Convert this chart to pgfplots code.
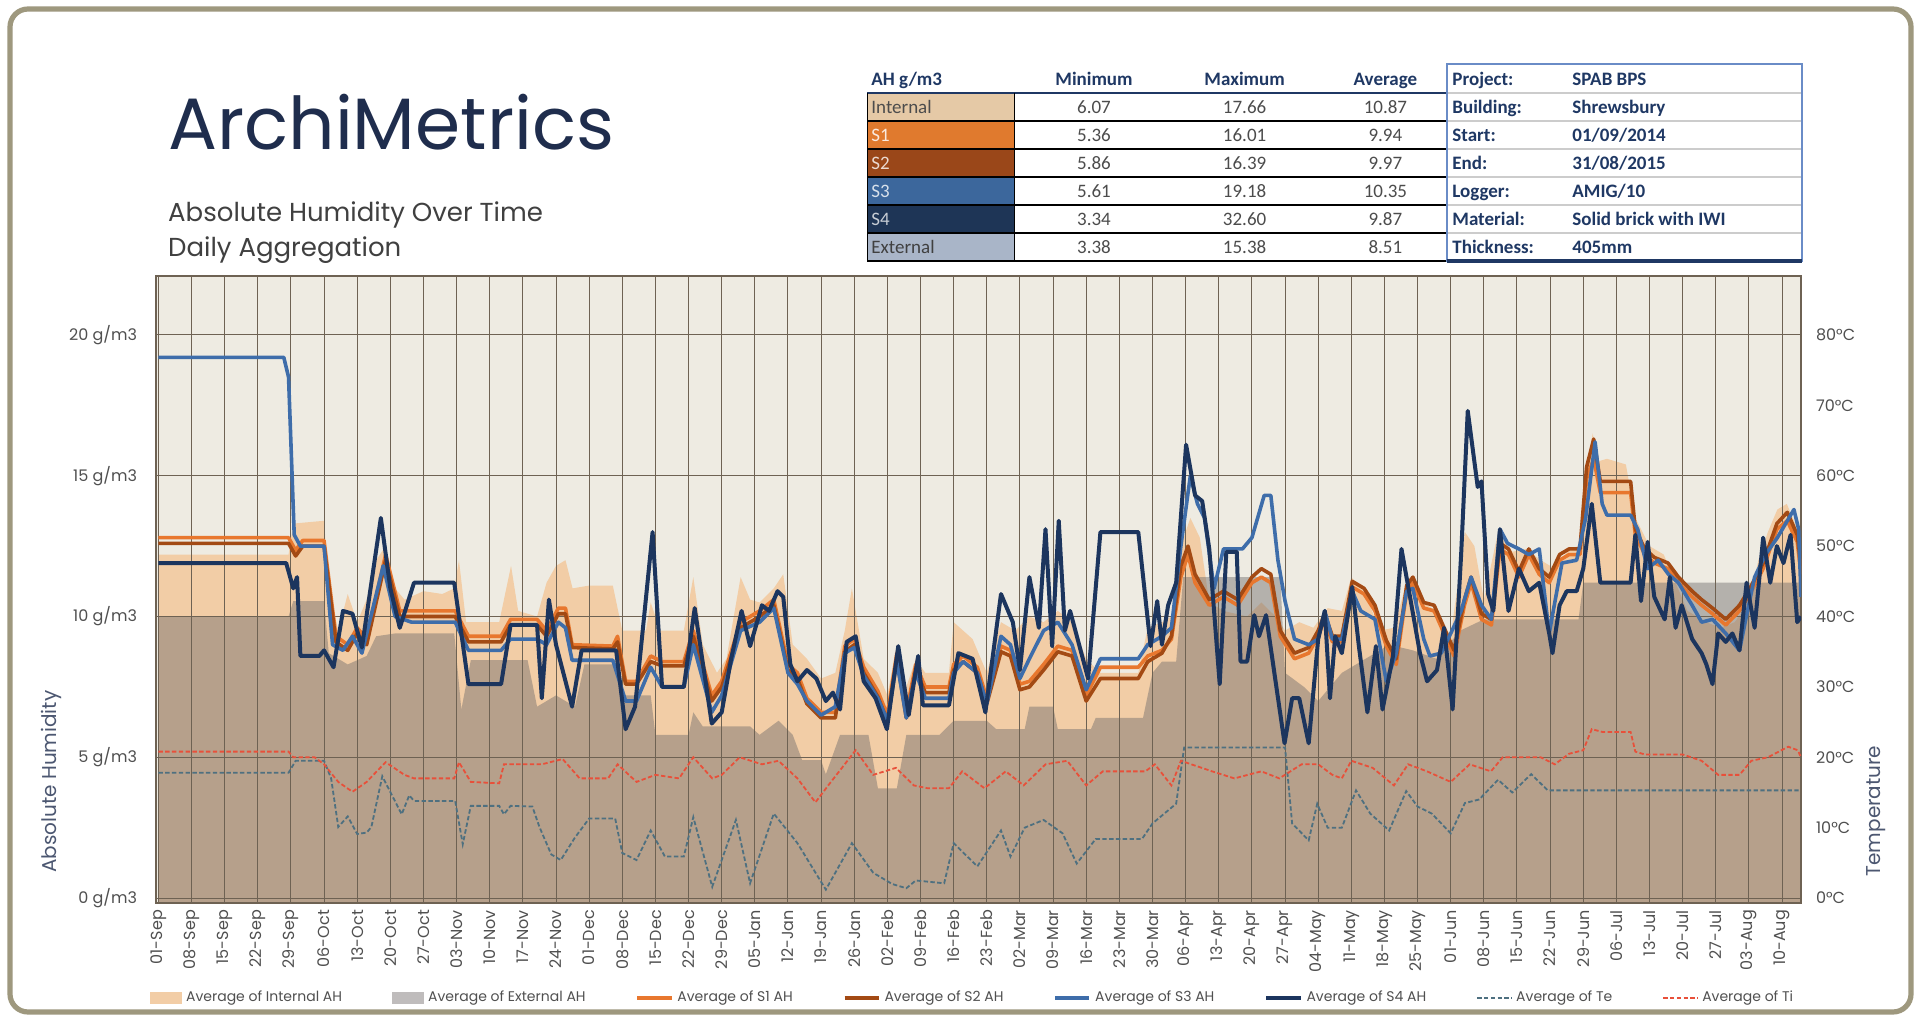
\documentclass[border=0pt]{standalone}
\usepackage{fontspec}
\setmainfont{Poppins}
\newfontfamily\cond{Carlito}
\usepackage{graphicx}
\usepackage{pgfplots}
\usepackage{pgfplotstable}
\pgfplotsset{compat=1.18}

\definecolor{bgcream}{HTML}{EEEBE2}
\definecolor{cInt}{HTML}{F2CDA6}
\definecolor{cExt}{HTML}{6F6B6B}
\definecolor{cExtL}{HTML}{BFBCBC}
\definecolor{cS1}{HTML}{E8772E}
\definecolor{cS2}{HTML}{A34A14}
\definecolor{cS3}{HTML}{3E6DAA}
\definecolor{cS4}{HTML}{1C355E}
\definecolor{cTi}{HTML}{E8503A}
\definecolor{cTe}{HTML}{4E7080}
\definecolor{gridc}{HTML}{6E6253}
\definecolor{ticktext}{HTML}{505050}
\definecolor{navy}{HTML}{1F2D4D}
\definecolor{ptnavy}{HTML}{1F3864}
\definecolor{frame}{HTML}{9E987E}
\definecolor{tblue}{HTML}{6A8CC7}
\definecolor{cTabInt}{HTML}{E5C9A6}
\definecolor{cTabS1}{HTML}{E07A2E}
\definecolor{cTabS2}{HTML}{9A4719}
\definecolor{cTabS3}{HTML}{3C679C}
\definecolor{cTabS4}{HTML}{1E3556}
\definecolor{cTabExt}{HTML}{A9B5C8}

% ---------------- data (day index from 01-Sep-2014) ----------------
\pgfplotstableread{
d v
0 -0.2
0 12.2
27.5 12.2
28.5 13.3
35 13.4
36 11.0
38 9.5
40 10.8
42 9.8
44 10.6
46 12.0
48 12.5
50 11.0
52 10.6
56 10.9
60 10.8
62.5 11.0
63.5 12.0
65 9.8
72 9.8
74.5 11.8
76 10.2
80 10.0
82 11.2
84 11.8
86 12.0
87.5 11.0
91 11.1
96 11.1
98 9.5
103 9.5
104 10.5
106 9.5
111 9.5
113 11.4
115 9.0
118 8.0
120 8.5
123 11.4
125 10.6
127 10.5
130 11.0
132 11.5
134 9.0
137 8.5
140 7.8
143 8.0
145 9.5
146.5 11.0
149 8.5
152 8.0
154 7.2
156 9.0
158 7.5
160 8.5
162 8.0
167 8.0
168 9.8
172 9.2
175 8.0
178 9.8
181 9.5
184 10.0
187 9.8
190 10.2
193 9.8
196 8.5
199 8.0
207 8.0
209 9.6
212 9.8
214 10.0
216 12.5
218 13.5
220 12.8
222 10.5
225 10.2
230 10.0
233 10.5
236 10.0
238 9.5
241 9.8
244 9.6
247 10.3
250 10.2
252 11.4
255 10.8
258 9.5
261 9.6
264 11.4
267 10.5
270 10.2
273 9.3
276 13.0
278 12.5
280 10.6
283 13.0
286 12.3
289 12.4
292 12.0
295 11.7
298 12.4
300 12.5
301.5 15.0
303 16.5
304 15.5
306 15.6
310 15.4
312 13.5
315 12.5
318 12.2
321 11.0
323 10.2
327 9.8
330 9.6
333 9.8
336 10.5
338 12.0
340 13.0
342 13.8
344 14.0
346 13.2
347 12.0
347 -0.2
}\tInt

\pgfplotstableread{
d v
0 -0.2
0 10.0
27.5 10.0
28.5 10.55
35 10.55
36 8.7
40 8.3
44 8.6
46 9.3
50 9.4
62.5 9.4
64 6.7
66 8.45
78 8.45
80 6.8
84 7.2
88 6.8
90 8.3
97 8.3
98 7.2
104 7.2
105 5.8
112 5.8
113 6.6
115 6.1
125 6.1
127 5.8
131 6.3
134 5.8
136 4.9
140 4.9
141 4.4
144 5.8
150 5.8
152 3.9
156 3.9
158 5.8
165 5.8
168 6.3
175 6.3
177 6.0
183 6.0
184 6.8
189 6.8
190 6.0
197 6.0
198 6.4
208 6.4
210 8.0
212 8.4
215 8.4
216.5 11.4
237 11.4
238 8.0
242 7.5
245 7.0
250 8.0
255 8.5
260 9.0
265 8.8
270 8.5
275 9.5
280 9.9
300 9.9
301 11.2
347 11.2
347 -0.2
}\tExt

\pgfplotstableread{
d v
0 12.8
27.5 12.8
29 12.35
30.5 12.7
35 12.7
37.5 9.3
40 9.0
42 9.6
44 9.2
48 12.2
51 10.2
53.5 10.2
62.7 10.2
65.5 9.3
72.4 9.3
74.4 9.9
80 9.9
82 9.5
84.5 10.3
86 10.3
87.4 9.0
96 8.95
97 9.3
98.7 7.7
101 7.7
104 8.6
106.4 8.4
111 8.4
113 9.5
116.9 7.2
119 7.7
123 9.8
127 10.2
130 10.6
133 8.3
135 8.0
137 7.1
140 6.6
143 6.6
145 8.95
147 9.2
149 8.2
152 7.35
154 6.5
156 8.7
158 6.6
160 8.3
162 7.5
167 7.5
168 8.3
170 8.6
173 8.2
175 7.1
178 8.95
180 8.8
182 7.6
184 7.7
187 8.3
190 8.95
193 8.8
196 7.2
199 8.2
207 8.2
209 8.6
212 8.8
214 9.2
216 11.4
217.5 12.2
219 11.2
222 10.4
225 10.7
228 10.4
231 11.2
233 11.4
235 11.2
237 9.3
240 8.5
243 8.7
245 9.3
246.4 9.9
248 9.1
250 9.1
252.2 11.05
254.7 10.8
257 10.2
259.4 8.95
261.5 8.3
263.7 10.9
265 11.2
267.3 10.3
269.5 10.2
271.6 9.4
273.7 8.6
275.9 10.4
277.3 11.2
279.5 9.9
281.6 9.7
283.4 12.4
285.2 12.2
287.4 11.4
289.5 12.2
291.7 11.5
293.8 11.2
296 12.0
298 12.2
300.3 12.2
301.7 14.9
303.2 15.6
304.6 14.4
311 14.4
312 12.9
314 12.2
316 11.9
318.9 11.7
321.1 11.2
324 10.7
326 10.4
328.3 10.1
331.1 9.7
334 10.2
336.2 10.8
339 11.7
341.9 13.1
344.1 13.4
346.2 12.65
347 11.5
}\tSone

\pgfplotstableread{
d v
0 12.6
27.5 12.6
29 12.15
30.5 12.5
35 12.5
37.5 9.1
40 8.8
42 9.4
44 9.0
48 12.0
51 10.0
53.5 10.0
62.7 10.0
65.5 9.1
72.4 9.1
74.4 9.7
80 9.7
82 9.3
84.5 10.1
86 10.1
87.4 8.9
96 8.85
97 9.1
98.7 7.6
101 7.6
104 8.4
106.4 8.25
111 8.25
113 9.3
116.9 7.0
119 7.5
123 9.6
127 10.0
130 10.4
133 8.1
135 7.8
137 6.9
140 6.4
143 6.4
145 8.75
147 9.0
149 8.0
152 7.15
154 6.3
156 8.5
158 6.4
160 8.1
162 7.3
167 7.3
168 8.1
170 8.4
173 8.0
175 6.9
178 8.75
180 8.6
182 7.4
184 7.5
187 8.1
190 8.75
193 8.6
196 7.0
199 7.8
207 7.8
209 8.4
212 8.7
214 9.3
216 11.8
217.5 12.5
219 11.5
222 10.6
225 10.9
228 10.6
231 11.4
233 11.7
235 11.5
237 9.5
240 8.7
243 8.9
245 9.5
246.4 10.1
248 9.3
250 9.3
252.2 11.25
254.7 11.0
257 10.4
259.4 9.15
261.5 8.5
263.7 11.1
265 11.4
267.3 10.5
269.5 10.4
271.6 9.6
273.7 8.8
275.9 10.6
277.3 11.4
279.5 10.1
281.6 9.9
283.4 12.6
285.2 12.4
287.4 11.6
289.5 12.4
291.7 11.7
293.8 11.4
296 12.2
298 12.4
300.3 12.4
301.7 15.3
303.2 16.3
304.6 14.8
311 14.8
312 13.1
314 12.4
316 12.1
318.9 11.9
321.1 11.4
324 10.9
326 10.6
328.3 10.3
331.1 9.9
334 10.4
336.2 11.0
339 11.9
341.9 13.3
344.1 13.7
346.2 12.9
347 11.8
}\tStwo

\pgfplotstableread{
d v
0 19.2
26.5 19.2
27.5 18.5
28.7 12.9
30 12.5
35 12.5
36.8 9.0
39 8.8
41 9.3
43 8.7
47.5 11.8
50 10.0
53.5 9.8
62.7 9.8
65.5 8.8
72.4 8.8
74.4 9.2
80 9.2
82 9.0
84.5 9.8
86 9.6
87.4 8.45
96 8.45
98.7 7.0
101 7.0
104 8.2
106.4 7.5
111 7.5
113 9.0
116.9 6.6
119 7.2
123 9.5
127 9.8
130 10.3
133 8.0
135 7.6
137 7.0
140 6.5
143 6.8
145 8.7
147 8.9
149 7.9
152 7.1
154 6.3
156 8.4
158 6.4
160 8.0
162 7.1
167 7.1
168 8.0
170 8.4
173 8.0
175 6.9
178 9.3
180 9.0
182 7.8
184 8.5
187 9.5
190 9.8
193 9.0
196 7.4
199 8.5
207 8.5
209 9.0
212 9.3
214 9.6
216 12.5
218 15.0
219.5 14.0
221 13.5
223 11.0
225 12.4
229 12.4
231 12.8
233.6 14.3
235 14.3
236.5 12.0
238 10.55
240 9.2
243 9.0
245 9.2
246.4 10.2
248 9.2
250 9.2
252.2 10.9
254 10.2
257 9.9
259.4 7.7
261.5 8.7
263.7 10.9
265 11.0
267.3 9.2
268.6 8.6
271 8.7
273 9.4
275.2 10.2
277.3 11.4
279.5 10.4
281.6 9.9
283.4 13.1
285 12.6
287.4 12.4
289.5 12.2
291.7 12.4
293.8 9.4
296.5 11.9
299.6 12.0
301.5 13.5
303.5 16.2
305 14.0
306 13.6
311 13.6
312.5 13.1
314.6 11.7
316.8 12.0
319 11.5
321.1 11.2
324 10.4
326 9.8
328.3 9.9
331.1 9.4
334 8.8
335.5 10.05
337.2 11.4
339.5 12.2
342 12.8
345.5 13.8
346.5 13.1
347 10.7
}\tSthree

\pgfplotstableread{
d v
0 11.9
27 11.9
28.5 11.0
29.3 11.4
30 8.6
34 8.6
35 8.8
37 8.2
39 10.2
41 10.1
43 8.9
47 13.5
49 11.0
51 9.6
54 11.2
62.5 11.2
65.5 7.6
72.4 7.6
74.4 9.7
80 9.7
81 7.1
82.5 10.6
84 9.0
87.4 6.8
89.4 8.8
96.7 8.8
98.7 6.0
100.7 6.8
104.4 13.0
106.4 7.5
111 7.5
113.3 10.3
116.9 6.2
119 6.6
121 8.5
123.2 10.2
125 8.95
127.5 10.4
129 10.2
130.8 10.9
132 10.7
133.5 8.3
135 7.7
137 8.1
139 7.8
141 7.0
142.5 7.3
144 6.7
145.4 9.1
147.3 9.3
149 7.7
151.5 7.1
153.9 6.0
156.3 8.95
158.5 6.5
160.5 8.6
161.5 6.85
167 6.85
169 8.7
172 8.5
174.7 6.6
178 10.8
180.5 9.8
182 8.1
184 11.4
186 9.6
187.4 13.1
188.8 8.95
190.2 13.4
191.5 9.5
192.6 10.2
194.5 9.0
196.4 7.8
199 13.0
207 13.0
209.6 8.95
211 10.55
212 9.0
213.3 10.4
215 11.2
217.1 16.1
219 14.3
220.5 14.1
222 12.4
224.2 7.6
225.6 12.3
227.8 12.3
228.6 8.4
230 8.4
231.5 10.05
232.5 9.3
234 10.05
236 7.7
237.9 5.5
239.5 7.1
241 7.1
243 5.5
245 9.2
246.4 10.2
247.5 7.1
248.6 9.3
250 8.7
252.2 11.05
253.6 8.95
255.4 6.6
257.2 8.95
258.6 6.7
260.8 8.6
262.6 12.4
264.4 10.7
266.5 8.7
268 7.7
270.1 8.1
271.6 9.6
273.4 6.7
275.2 12.2
276.6 17.3
278.7 14.6
279.5 14.8
280.9 10.8
282 10.2
283.4 13.1
285.2 10.2
287.4 11.7
289.5 10.9
291.7 11.2
293.8 9.4
294.5 8.7
296 10.4
297.5 10.9
299.6 10.9
301 11.7
302.8 14.0
304.6 11.2
311 11.2
312 12.9
313.2 10.55
314.6 12.65
316 10.7
318.2 9.9
319.3 11.4
320.5 9.6
321.8 10.4
324 9.2
326 8.7
327 8.3
328.3 7.6
329.5 9.4
331.1 9.1
332.5 9.4
334 8.8
335.5 11.2
337.2 9.6
339 12.8
340.5 11.2
341.9 12.5
343.3 11.9
344.8 12.9
346.2 9.8
347 10.0
}\tSfour

\pgfplotstableread{
d t
0 20.8
27.5 20.8
28.5 20.0
33 20.0
35 19.0
38 16.5
41 15.1
44 16.5
48 19.3
52 17.5
54 17.0
62.5 17.0
63.5 19.3
66 16.5
72 16.3
73 19.0
81 19.0
85.4 19.75
89 17.0
95 17.0
97 19.0
101 16.5
105 17.5
110 17.0
113 20.0
117 17.0
119 17.5
122.8 20.0
127.5 19.0
131 19.5
135 17.0
138.8 13.6
141.5 16.0
147.3 21.0
151 17.5
155.8 18.5
159.6 16.0
162.5 15.6
167 15.6
169.8 18.0
174.5 15.6
179 18.0
182.8 16.0
187.4 19.0
192 19.5
196 16.0
199.5 18.0
208.5 18.0
210.5 19.0
214 16.0
216 19.5
222.6 18.0
227.3 17.0
233 18.0
236.8 17.0
241.5 19.0
245 19.0
248 17.5
250 17.0
252 19.5
256.5 18.5
261 16.0
264 19.0
268 18.0
273 16.5
277 19.0
281.5 18.0
284 20.0
288 20.0
292 20.0
295 19.0
298 20.5
301 21.0
302.8 24.0
305 23.6
311 23.6
312 20.8
314 20.4
322 20.4
326 19.5
329.5 17.5
334 17.5
336.5 19.5
340 20.0
344.3 21.5
346.3 21.0
347 20.0
}\tTi

\pgfplotstableread{
d t
0 17.8
27.5 17.8
29 19.5
35 19.5
36.5 17.0
38 10.1
40 11.6
42 9.1
44 9.3
45 10.1
47.3 17.3
51.4 11.9
53 14.6
54 13.8
62.7 13.8
64.3 7.65
66 13.1
72 13.1
73 11.9
74.4 13.1
79 13.0
80.5 10.1
83 6.2
85 5.4
88 8.6
91 11.3
96.5 11.3
98 6.4
101 5.4
104 9.6
107 5.9
111 5.9
113 11.5
117 1.6
122 11.1
125 2.1
130 12.0
135 7.8
141 1.2
146.5 7.8
151 3.6
155 2.0
158 1.4
160 2.5
166 2.1
168 7.8
173 4.5
178 9.6
180 5.9
183 10.0
187 11.1
191 9.2
194 4.9
198 8.4
207.8 8.4
210 10.6
215 13.4
216.7 21.4
238 21.4
239.5 10.6
243 8.2
244.8 13.4
247 10.0
250 10.0
253 15.3
256 12.0
260 9.6
263.6 15.2
266 13.0
269 12.0
273 9.2
276 13.5
279 14.0
283 16.8
286 15.0
290 17.6
293.5 15.3
347 15.3
}\tTe

\newcommand\tickfont{\fontsize{8}{9}\selectfont}

\begin{document}
\begin{tikzpicture}
\useasboundingbox (0pt,0pt) rectangle (960.5pt,509.5pt);
\fill[white] (0pt,0pt) rectangle (960.5pt,509.5pt);
\draw[frame, line width=2.6pt, rounded corners=9pt] (5pt,3.5pt) rectangle (955.5pt,505pt);

% ---- layer 1: background and areas ----
\begin{axis}[at={(78pt,58pt)}, anchor=south west, width=822.5pt, height=313.5pt,
  scale only axis, xmin=-0.5, xmax=347, ymin=-0.17, ymax=22.09,
  enlargelimits=false, xtick=\empty, ytick=\empty,
  axis line style={draw=none}, axis background/.style={fill=bgcream}]
\addplot[fill=cInt, draw=none] table[x=d,y=v] {\tInt} -- cycle;
\addplot[fill=cExt, fill opacity=0.45, draw=none] table[x=d,y=v] {\tExt} -- cycle;
\end{axis}

% ---- layer 2: grid, humidity lines, legend ----
\begin{axis}[at={(78pt,58pt)}, anchor=south west, width=822.5pt, height=313.5pt,
  scale only axis, xmin=-0.5, xmax=347, ymin=-0.17, ymax=22.09,
  enlargelimits=false,
  xtick={0,7,...,343},
  xticklabels={01-Sep,08-Sep,15-Sep,22-Sep,29-Sep,06-Oct,13-Oct,20-Oct,27-Oct,03-Nov,10-Nov,17-Nov,24-Nov,01-Dec,08-Dec,15-Dec,22-Dec,29-Dec,05-Jan,12-Jan,19-Jan,26-Jan,02-Feb,09-Feb,16-Feb,23-Feb,02-Mar,09-Mar,16-Mar,23-Mar,30-Mar,06-Apr,13-Apr,20-Apr,27-Apr,04-May,11-May,18-May,25-May,01-Jun,08-Jun,15-Jun,22-Jun,29-Jun,06-Jul,13-Jul,20-Jul,27-Jul,03-Aug,10-Aug},
  x tick label style={rotate=90, anchor=east, font=\tickfont, text=ticktext},
  ytick={0,5,10,15,20},
  /pgf/number format/assume math mode=true,
  yticklabel={\pgfmathprintnumber{\tick} g/m3},
  y tick label style={anchor=east, xshift=-6pt, font=\tickfont, text=ticktext},
  major tick length=0pt,
  grid=major, grid style={color=gridc, line width=0.5pt},
  axis line style={color=gridc, line width=0.7pt},
  legend columns=8,
  legend style={at={(0.497,-0.1515)}, anchor=center, draw=none, fill=none,
    font=\fontsize{7}{8}\selectfont, text=ticktext,
    /tikz/every even column/.append style={column sep=23pt}},
  legend cell align=left]
\addlegendimage{legend image code/.code={\fill[cInt] (0cm,-0.09cm) rectangle (0.55cm,0.09cm);}}
\addlegendimage{legend image code/.code={\fill[cExtL] (0cm,-0.09cm) rectangle (0.55cm,0.09cm);}}
\addplot[cS1, line width=1.8pt, line join=round] table[x=d,y=v] {\tSone};
\addplot[cS2, line width=1.8pt, line join=round] table[x=d,y=v] {\tStwo};
\addplot[cS3, line width=1.8pt, line join=round] table[x=d,y=v] {\tSthree};
\addplot[cS4, line width=2.0pt, line join=round] table[x=d,y=v] {\tSfour};
\addlegendimage{cTe, line width=0.9pt, dash pattern=on 2.2pt off 1.2pt}
\addlegendimage{cTi, line width=0.9pt, dash pattern=on 2.2pt off 1.2pt}
\legend{Average of Internal AH, Average of External AH, Average of S1 AH, Average of S2 AH, Average of S3 AH, Average of S4 AH, Average of Te, Average of Ti}
\end{axis}

% ---- layer 3: temperature axis ----
\begin{axis}[at={(78pt,58pt)}, anchor=south west, width=822.5pt, height=313.5pt,
  scale only axis, xmin=-0.5, xmax=347, ymin=-0.7, ymax=88.36,
  enlargelimits=false, axis y line*=right, hide x axis,
  axis line style={draw=none},
  ytick={0,10,...,80},
  /pgf/number format/assume math mode=true,
  yticklabel={\pgfmathprintnumber{\tick}°C},
  y tick label style={anchor=west, xshift=4pt, font=\tickfont, text=ticktext},
  major tick length=0pt]
\addplot[cTe, line width=0.9pt, dash pattern=on 2.2pt off 1.2pt] table[x=d,y=t] {\tTe};
\addplot[cTi, line width=0.9pt, dash pattern=on 2.2pt off 1.2pt] table[x=d,y=t] {\tTi};
\end{axis}

\begin{scope}[x=1pt,y=1pt]
% ---- axis titles ----
\node[rotate=90, font=\fontsize{10}{12}\selectfont, text=navy!80] at (25.7,118.7) {Absolute Humidity};
\node[rotate=90, font=\fontsize{10}{12}\selectfont, text=navy!80] at (938.3,104) {Temperature};

% ---- titles ----
\node[anchor=base west, inner sep=0pt, text=navy] at (83.9,434.8) {\resizebox{223pt}{!}{ArchiMetrics}};
\node[anchor=base west, inner sep=0pt, text=black!75, font=\fontsize{13}{15}\selectfont] at (83.9,398.5) {Absolute Humidity Over Time};
\node[anchor=base west, inner sep=0pt, text=black!75, font=\fontsize{13}{15}\selectfont] at (83.9,381) {Daily Aggregation};

% ---- AH table ----
\foreach \i/\lab/\col/\tc/\mn/\mx/\av in {
  0/Internal/cTabInt/black!70/6.07/17.66/10.87,
  1/S1/cTabS1/white!85!cTabS1/5.36/16.01/9.94,
  2/S2/cTabS2/white!80!cTabS2/5.86/16.39/9.97,
  3/S3/cTabS3/white!80!cTabS3/5.61/19.18/10.35,
  4/S4/cTabS4/white!75!cTabS4/3.34/32.60/9.87,
  5/External/cTabExt/black!75/3.38/15.38/8.51}{
  \fill[\col] (433.7,{449-14*\i}) rectangle (507.2,{463-14*\i});
  \node[anchor=base west, inner sep=0pt, text=\tc, font=\cond\fontsize{9.5}{11}\selectfont] at (435.5,{452.8-14*\i}) {\lab};
  \node[anchor=base, inner sep=0pt, text=black!70, font=\cond\fontsize{9.5}{11}\selectfont] at (547,{452.8-14*\i}) {\mn};
  \node[anchor=base, inner sep=0pt, text=black!70, font=\cond\fontsize{9.5}{11}\selectfont] at (622.3,{452.8-14*\i}) {\mx};
  \node[anchor=base, inner sep=0pt, text=black!70, font=\cond\fontsize{9.5}{11}\selectfont] at (692.7,{452.8-14*\i}) {\av};
}
\foreach \yy in {449,435,421,407,393,379}{
  \draw[black, line width=0.7pt] (433.7,\yy) -- (723.4,\yy);
}
\draw[ptnavy, line width=1.2pt] (433.7,463) -- (723.4,463);
\draw[black, line width=0.7pt] (433.7,379) -- (433.7,463);
\draw[black, line width=0.7pt] (507.2,379) -- (507.2,463);
\node[anchor=base west, inner sep=0pt, text=ptnavy, font=\cond\bfseries\fontsize{9.5}{11}\selectfont] at (435.5,466.5) {AH g/m3};
\node[anchor=base, inner sep=0pt, text=ptnavy, font=\cond\bfseries\fontsize{9.5}{11}\selectfont] at (547,466.5) {Minimum};
\node[anchor=base, inner sep=0pt, text=ptnavy, font=\cond\bfseries\fontsize{9.5}{11}\selectfont] at (622.3,466.5) {Maximum};
\node[anchor=base, inner sep=0pt, text=ptnavy, font=\cond\bfseries\fontsize{9.5}{11}\selectfont] at (692.7,466.5) {Average};

% ---- project table ----
\foreach \yy in {463,449,435,421,407,393}{
  \draw[black!20, line width=0.6pt] (723.4,\yy) -- (901,\yy);
}
\draw[tblue, line width=0.8pt] (723.4,379) rectangle (901,477.6);
\draw[ptnavy, line width=1.6pt] (723.4,379) -- (901,379);
\foreach \i/\a/\b in {0/Project:/SPAB BPS, 1/Building:/Shrewsbury, 2/Start:/01\slash 09\slash 2014, 3/End:/31\slash 08\slash 2015, 4/Logger:/AMIG\slash 10, 5/Material:/Solid brick with IWI, 6/Thickness:/405mm}{
  \node[anchor=base west, inner sep=0pt, text=ptnavy, font=\cond\bfseries\fontsize{9.5}{11}\selectfont] at (726,{466.5-14*\i}) {\a};
  \node[anchor=base west, inner sep=0pt, text=ptnavy, font=\cond\bfseries\fontsize{9.5}{11}\selectfont] at (786,{466.5-14*\i}) {\b};
}
\end{scope}
\end{tikzpicture}
\end{document}
